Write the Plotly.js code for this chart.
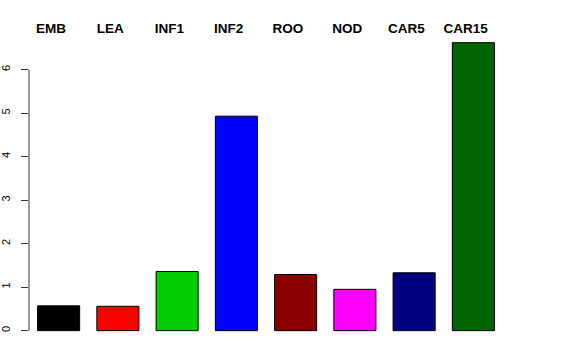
<!DOCTYPE html>
<html>
<head>
<meta charset="utf-8">
<script src="https://cdn.plot.ly/plotly-3.0.1.min.js"></script>
<style>html,body{margin:0;padding:0;background:#fff;}#chart{width:576px;height:360px;}</style>
</head>
<body>
<div id="chart"></div>
<script>
const categories = ["EMB", "LEA", "INF1", "INF2", "ROO", "NOD", "CAR5", "CAR15"];
const values = [0.57, 0.56, 1.36, 4.93, 1.29, 0.95, 1.33, 6.62];
const barColors = ["#000000", "#FF0000", "#00CD00", "#0000FF", "#8B0000", "#FF00FF", "#000080", "#006400"];
const yTicks = [0, 1, 2, 3, 4, 5, 6];

const positions = categories.map((c, i) => i);
const labelShift = -0.13;

const trace = {
  type: "bar",
  x: positions,
  y: values,
  width: 0.71,
  marker: { color: barColors, line: { color: "#000000", width: 1 } },
  hoverinfo: "skip"
};

const layout = {
  width: 576, height: 360,
  margin: { l: 29, r: 73, t: 37.4, b: 24.65 },
  paper_bgcolor: "#ffffff", plot_bgcolor: "#ffffff",
  showlegend: false,
  xaxis: {
    range: [-0.5, 7.5],
    side: "top",
    tickvals: positions.map(p => p + labelShift),
    ticktext: categories.map(c => "<b>" + c + "</b>"),
    ticks: "", showline: false, showgrid: false, zeroline: false,
    tickfont: { family: "Liberation Sans, Arial, sans-serif", size: 13.5, color: "#000" },
    ticklabelstandoff: 0
  },
  yaxis: {
    range: [-0.1, 6.75],
    tickvals: yTicks,
    ticktext: yTicks.map(String),
    tickangle: -90,
    ticks: "outside", ticklen: 7, tickcolor: "#333", tickwidth: 1,
    showline: false, showgrid: false, zeroline: false,
    ticklabelstandoff: 7,
    tickfont: { family: "Liberation Sans, Arial, sans-serif", size: 11, color: "#000" }
  },
  shapes: [{
    type: "line", xref: "paper", yref: "y",
    x0: 0, x1: 0, y0: yTicks[0], y1: yTicks[yTicks.length - 1],
    line: { color: "#333", width: 1 }
  }]
};

Plotly.newPlot("chart", [trace], layout, { staticPlot: true, displayModeBar: false });
</script>
</body>
</html>
